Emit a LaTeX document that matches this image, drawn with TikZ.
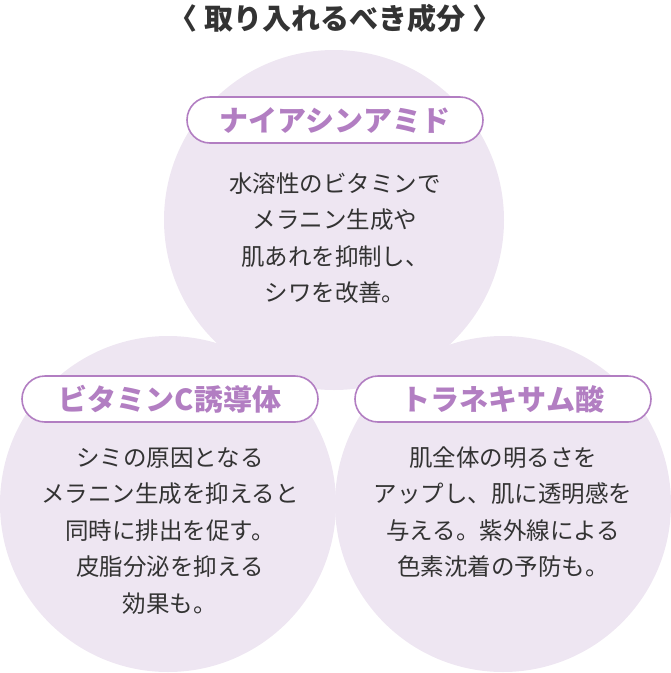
\documentclass[tikz,border=0pt]{standalone}
\usepackage{fontspec}
\setmainfont{Noto Sans CJK JP}
\definecolor{circ}{HTML}{EEE6F2}
\definecolor{pur}{HTML}{B27EC2}
\definecolor{txt}{HTML}{333333}
\begin{document}
\begin{tikzpicture}[x=1pt,y=-1pt,
  circ/.style={fill=circ,draw=none},
  pill/.style={draw=pur,line width=1.6pt,fill=white,rounded corners=23pt,minimum height=46pt,minimum width=296pt,text=pur,font=\fontsize{29}{29}\selectfont\bfseries,inner sep=0pt},
  body/.style={text=txt,font=\fontsize{23.5}{36.5}\selectfont,align=center,inner sep=0pt}]
\useasboundingbox (0,0) rectangle (671,673);
\fill[circ] (334,220) circle (170);
\fill[circ] (168,504) circle (168);
\fill[circ] (503,504) circle (168);
\node[text=txt,font=\fontsize{29}{29}\selectfont\bfseries] (title) at (335,18) {〈 取り入れるべき成分 〉};
\node[pill] (p1) at (335,120) {ナイアシンアミド};
\node[pill] (p2) at (170,399) {ビタミンC誘導体};
\node[pill] (p3) at (503,399) {トラネキサム酸};
\node[body] (b1) at (335,238) {水溶性のビタミンで\\メラニン生成や\\肌あれを抑制し、\\シワを改善。};
\node[body] (b2) at (170,531) {シミの原因となる\\メラニン生成を抑えると\\同時に排出を促す。\\皮脂分泌を抑える\\効果も。};
\node[body] (b3) at (503,512) {肌全体の明るさを\\アップし、肌に透明感を\\与える。紫外線による\\色素沈着の予防も。};
\end{tikzpicture}
\end{document}
